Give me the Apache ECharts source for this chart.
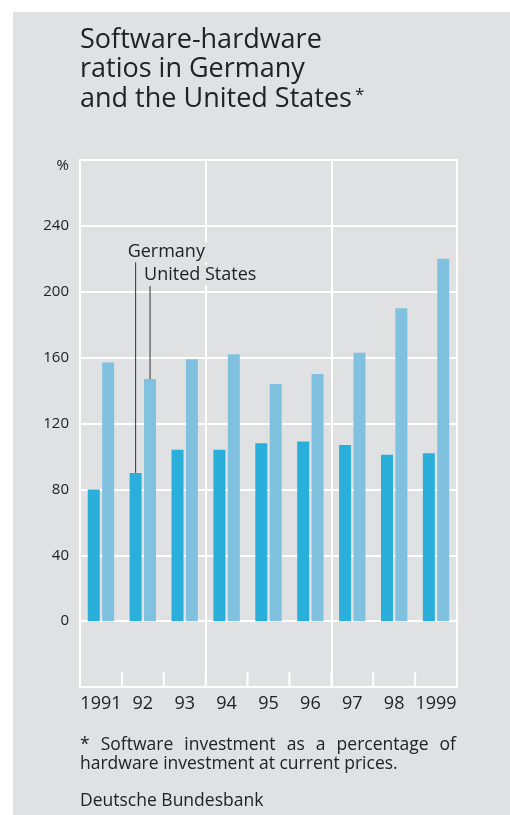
<!DOCTYPE html>
<html>
<head>
<meta charset="utf-8">
<script src="https://cdn.jsdelivr.net/npm/echarts@6/dist/echarts.min.js"></script>
<style>
html,body{margin:0;padding:0;background:#fff;}
#wrap{position:relative;width:510px;height:815px;background:#fff;}
#chart{position:absolute;left:13px;top:12px;width:497px;height:803px;}
</style>
</head>
<body>
<div id="wrap"><div id="chart"></div></div>
<script>
// ---- data ----
const categories = ['1991','92','93','94','95','96','97','98','1999'];
const germany = [80, 90, 104, 104, 108, 109, 107, 101, 102];
const unitedStates = [157, 147, 159, 162, 144, 150, 163, 190, 220];
const yTicks = [-40, 0, 40, 80, 120, 160, 200, 240, 280];
const titleLines = ['Software-hardware', 'ratios in Germany', 'and the United States'];
const footnote1 = '* Software investment as a percentage of';
const footnote2 = 'hardware investment at current prices.';
const source = 'Deutsche Bundesbank';
// label anchors (in data units) for the series annotations
const germanyLabelValue = 224, germanyLineTop = 218;
const usLabelValue = 210, usLineTop = 203.5;

const FONT = '"Open Sans", "Noto Sans", sans-serif';
const TXT = '#222';
const BG = '#e0e1e3';
const BAR_W = 12, BAR_GAP = 0.2;

const chart = echarts.init(document.getElementById('chart'), null, {renderer:'canvas'});
chart.setOption({
  backgroundColor: BG,
  animation: false,
  grid: {left: 67, right: 53, top: 148, bottom: 128, show: true,
         borderColor: '#fff', borderWidth: 2, backgroundColor: 'transparent'},
  xAxis: {
    type: 'category', data: categories, boundaryGap: true,
    axisLine: {show: true, onZero: false, lineStyle: {color: '#fff', width: 2}},
    axisTick: {show: false},
    splitLine: {show: true, interval: function (i) { return i === 3 || i === 6; },
                lineStyle: {color: '#fff', width: 2}},
    axisLabel: {color: TXT, fontFamily: FONT, fontSize: 18, margin: 8, interval: 0}
  },
  yAxis: {
    type: 'value', min: yTicks[0], max: yTicks[yTicks.length-1], interval: 40,
    axisLine: {show: false}, axisTick: {show: false},
    splitLine: {show: true, lineStyle: {color: '#fff', width: 2}},
    axisLabel: {
      color: TXT, fontFamily: FONT, fontSize: 15, margin: 11,
      formatter: function (v) {
        if (v === yTicks[yTicks.length-1]) return '{p|%}';
        if (v < 0) return '';
        return String(v);
      },
      rich: {p: {fontFamily: FONT, fontSize: 15, color: TXT, padding: [12, 0, 0, 0]}}
    }
  },
  series: [
    {name: 'Germany', type: 'bar', data: germany, barWidth: BAR_W, barGap: (BAR_GAP*100)+'%',
     itemStyle: {color: '#29afda'}},
    {name: 'United States', type: 'bar', data: unitedStates, barWidth: BAR_W,
     itemStyle: {color: '#80c1df'}}
  ]
});

// ---- annotations, titles, footnotes ----
const ctx = document.createElement('canvas').getContext('2d');
const FN = '17.5px ' + FONT;
function justify(text, x0, x1, y) {
  ctx.font = FN;
  const words = text.split(' ');
  const widths = words.map(w => ctx.measureText(w).width);
  const total = widths.reduce((a, b) => a + b, 0);
  const gap = (x1 - x0 - total) / (words.length - 1);
  const out = [];
  let x = x0;
  words.forEach((w, i) => {
    out.push({type: 'text', x: x, y: y, style: {text: w, font: FN, fill: TXT, verticalAlign: 'middle'}});
    x += widths[i] + gap;
  });
  return out;
}

const xc = c => chart.convertToPixel({xAxisIndex: 0}, c);
const yv = v => chart.convertToPixel({yAxisIndex: 0}, v);
const band = xc(categories[1]) - xc(categories[0]);
const cx = xc(categories[1]);
const off = (BAR_W + BAR_W * BAR_GAP) / 2;
const gx = cx - off, ux = cx + off;

const graphics = [];
// category boundary ticks on the bottom axis, pointing up
const yb = yv(yTicks[0]);
for (let i = 0; i <= categories.length; i++) {
  const x = xc(categories[0]) - band / 2 + i * band;
  graphics.push({type: 'line', z: 50, shape: {x1: x, y1: yb, x2: x, y2: yb - 15},
    style: {stroke: '#ffffff', lineWidth: 2}});
}

const TF = '27px ' + FONT;
titleLines.forEach((t, i) => {
  graphics.push({type: 'text', x: 67, y: 28 + i * 29.5,
    style: {text: t, font: TF, fill: TXT, verticalAlign: 'middle'}});
});
ctx.font = TF;
const lastW = ctx.measureText(titleLines[2]).width;
graphics.push({type: 'text', x: 67 + lastW + 3, y: 83,
  style: {text: '*', font: '17px ' + FONT, fill: TXT, verticalAlign: 'middle'}});

graphics.push({type: 'line', shape: {x1: gx, y1: yv(germanyLineTop), x2: gx, y2: yv(germany[1])},
  style: {stroke: '#333', lineWidth: 1}, z: 10});
graphics.push({type: 'line', shape: {x1: ux, y1: yv(usLineTop), x2: ux, y2: yv(unitedStates[1])},
  style: {stroke: '#333', lineWidth: 1}, z: 10});
const AF = '18px ' + FONT;
graphics.push({type: 'text', x: gx - 8, y: yv(germanyLabelValue), z: 10,
  style: {text: 'Germany', font: AF, fill: TXT, verticalAlign: 'middle',
          backgroundColor: BG, padding: [1, 2, 1, 0]}});
graphics.push({type: 'text', x: ux - 6, y: yv(usLabelValue), z: 10,
  style: {text: 'United States', font: AF, fill: TXT, verticalAlign: 'middle',
          backgroundColor: BG, padding: [1, 2, 1, 0]}});

justify(footnote1, 67, 443, 733).forEach(g => graphics.push(g));
graphics.push({type: 'text', x: 67, y: 752, style: {text: footnote2, font: FN, fill: TXT, verticalAlign: 'middle'}});
graphics.push({type: 'text', x: 67, y: 789, style: {text: source, font: FN, fill: TXT, verticalAlign: 'middle'}});

chart.setOption({graphic: graphics});
</script>
</body>
</html>
